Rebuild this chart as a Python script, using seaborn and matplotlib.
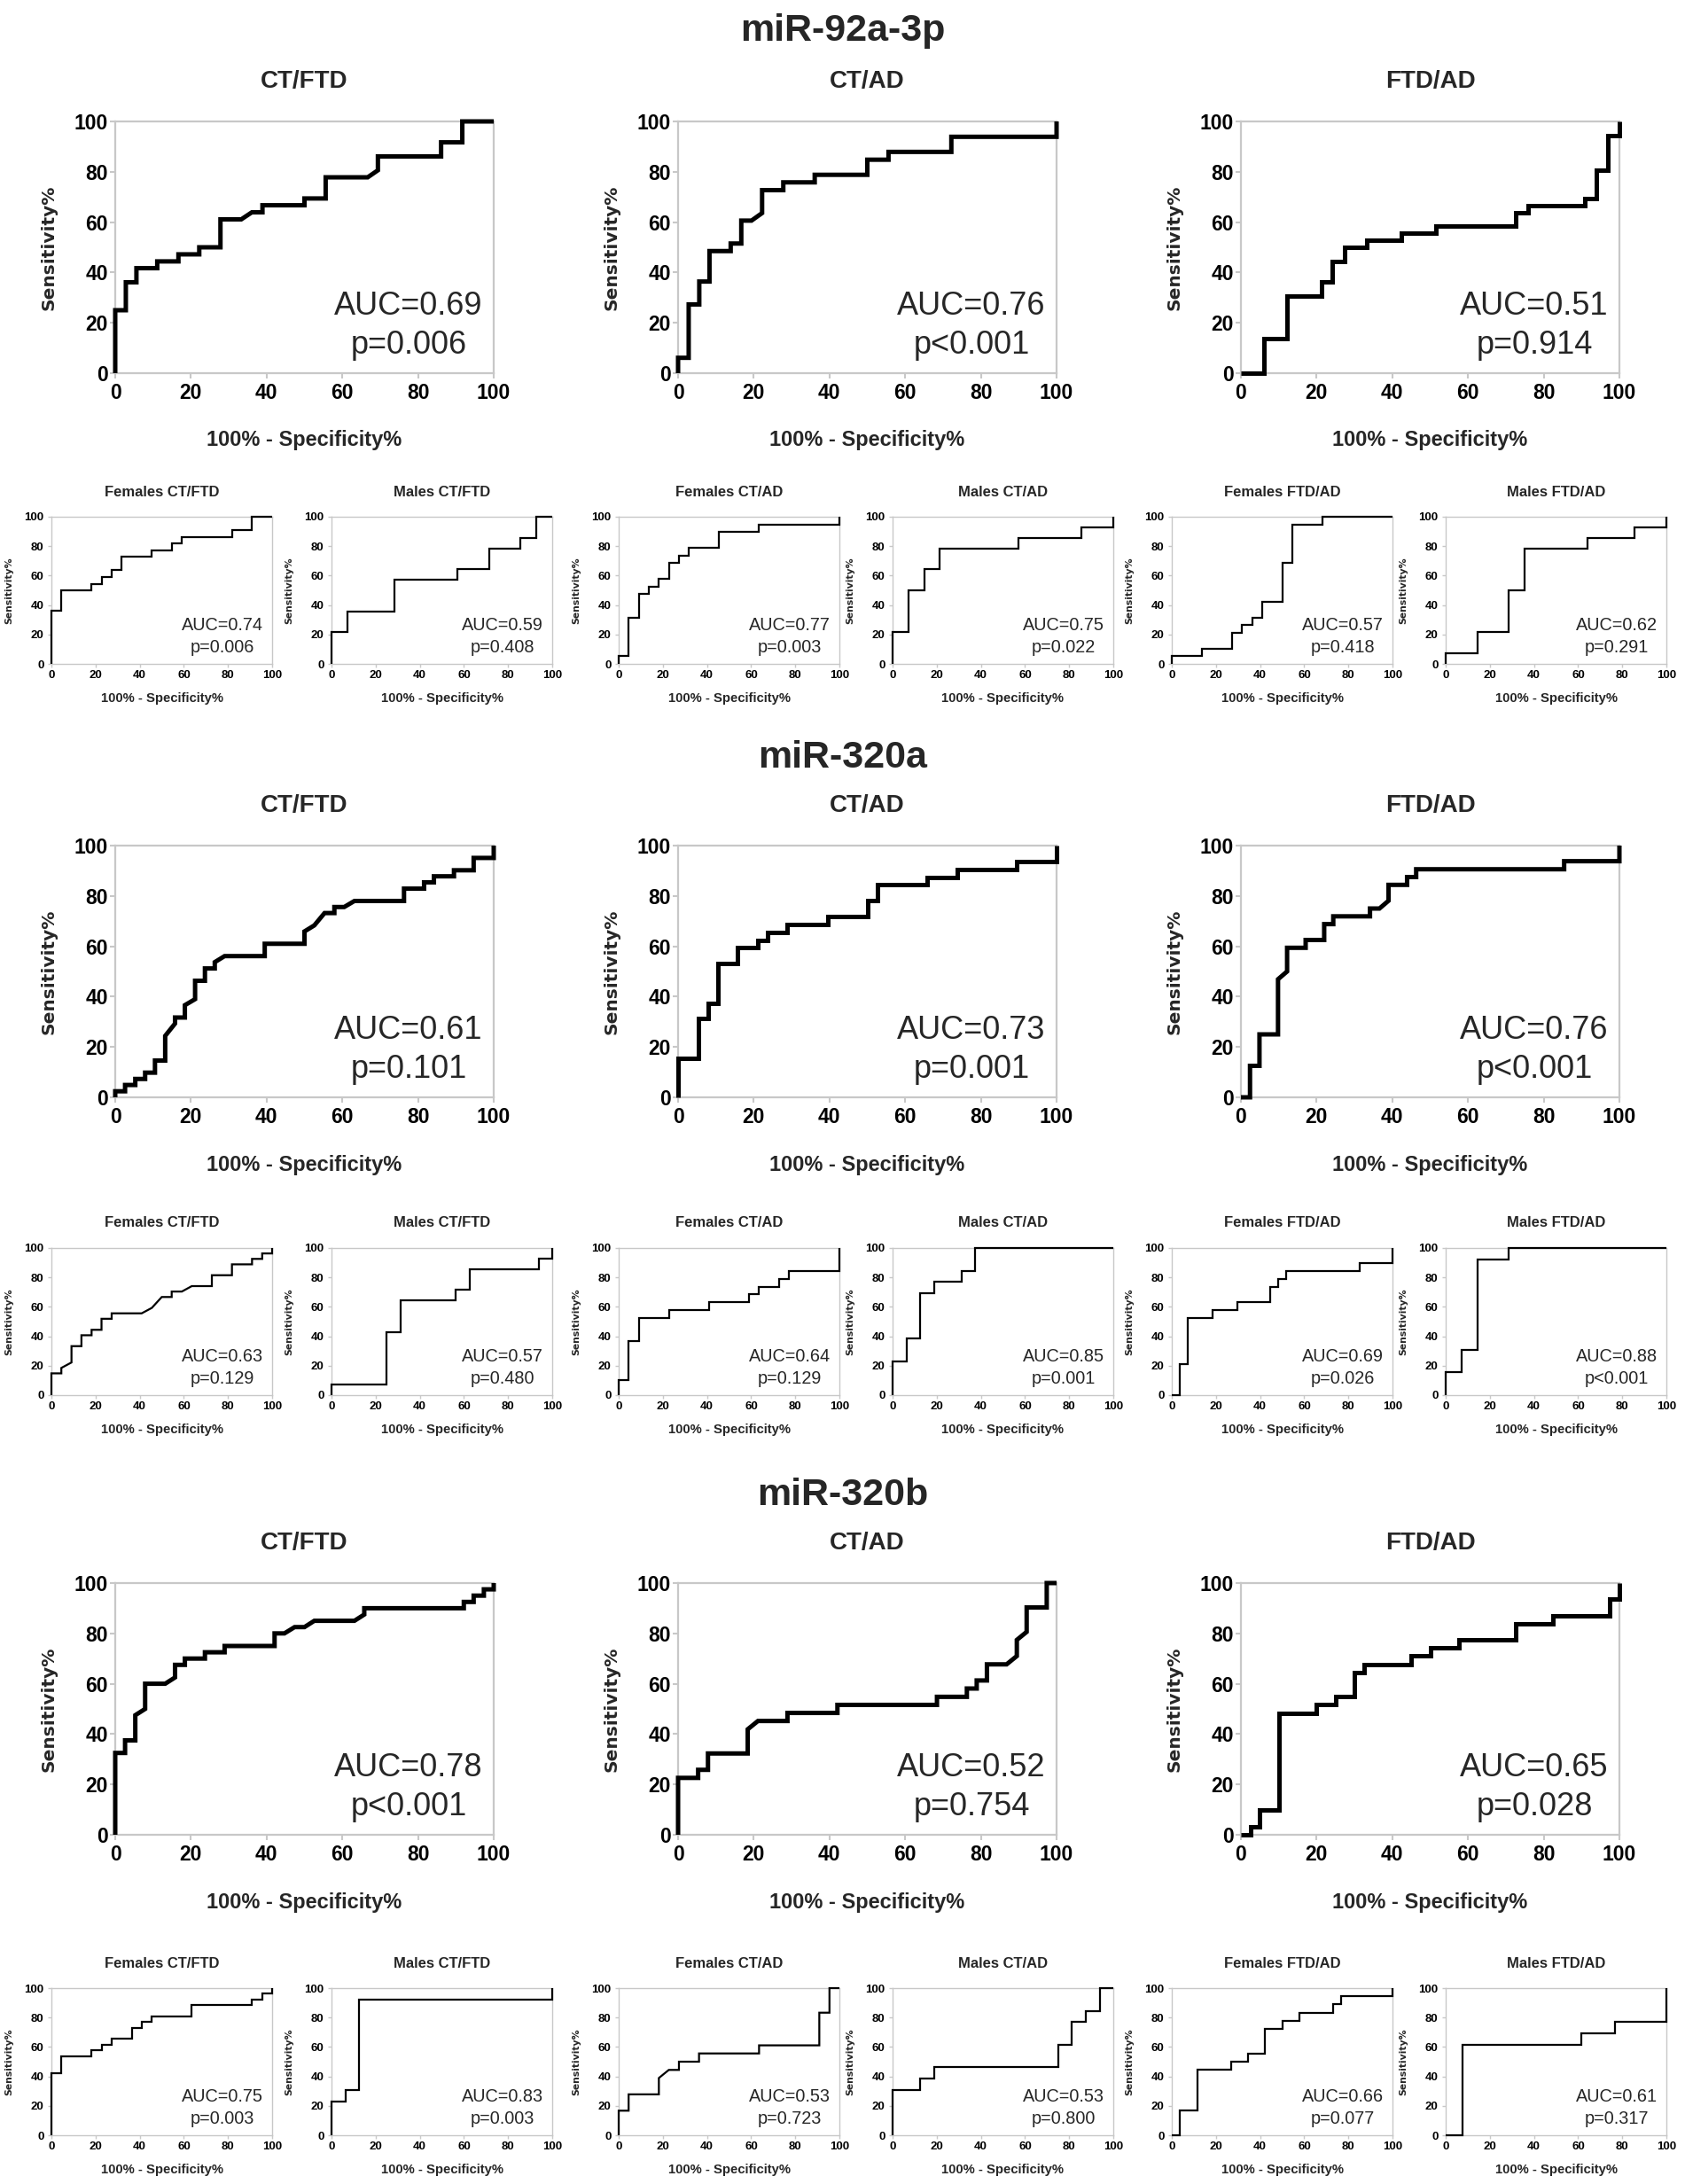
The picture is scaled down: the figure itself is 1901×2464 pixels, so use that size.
import matplotlib
matplotlib.use("Agg")
import matplotlib.pyplot as plt
import pandas as pd
import seaborn as sns

# ROC points (100% - specificity %, sensitivity %)
# ---- miR-92a-3p ----
m92_ct_ftd = [(0, 0), (0, 25), (2.8, 25), (2.8, 36.1), (5.6, 36.1), (5.6, 41.7), (11.1, 41.7), (11.1, 44.4),
              (16.7, 44.4), (16.7, 47.2), (22.2, 47.2), (22.2, 50), (27.8, 50), (27.8, 61.1), (33.3, 61.1),
              (36.1, 63.9), (38.9, 63.9), (38.9, 66.7), (50, 66.7), (50, 69.4), (55.6, 69.4), (55.6, 77.8),
              (66.7, 77.8), (69.4, 80.6), (69.4, 86.1), (86.1, 86.1), (86.1, 91.7), (91.7, 91.7), (91.7, 100),
              (100, 100)]
m92_ct_ad = [(0, 0), (0, 6.1), (2.8, 6.1), (2.8, 27.3), (5.6, 27.3), (5.6, 36.4), (8.3, 36.4), (8.3, 48.5),
             (13.9, 48.5), (13.9, 51.5), (16.7, 51.5), (16.7, 60.6), (19.4, 60.6), (22.2, 63.6), (22.2, 72.7),
             (27.8, 72.7), (27.8, 75.8), (36.1, 75.8), (36.1, 78.8), (50, 78.8), (50, 84.8), (55.6, 84.8),
             (55.6, 87.9), (72.2, 87.9), (72.2, 93.9), (100, 93.9), (100, 100)]
m92_ftd_ad = [(0, 0), (6.1, 0), (6.1, 13.9), (12.1, 13.9), (12.1, 30.6), (21.2, 30.6), (21.2, 36.1),
              (24.2, 36.1), (24.2, 44.4), (27.3, 44.4), (27.3, 50), (33.3, 50), (33.3, 52.8), (42.4, 52.8),
              (42.4, 55.6), (51.5, 55.6), (51.5, 58.3), (72.7, 58.3), (72.7, 63.9), (75.8, 63.9), (75.8, 66.7),
              (90.9, 66.7), (90.9, 69.4), (93.9, 69.4), (93.9, 80.6), (97, 80.6), (97, 94.4), (100, 94.4),
              (100, 100)]
m92_f_ct_ftd = [(0, 0), (0, 36.4), (4.5, 36.4), (4.5, 50), (18.2, 50), (18.2, 54.5), (22.7, 54.5), (22.7, 59.1),
                (27.3, 59.1), (27.3, 63.6), (31.8, 63.6), (31.8, 72.7), (45.5, 72.7), (45.5, 77.3), (54.5, 77.3),
                (54.5, 81.8), (59.1, 81.8), (59.1, 86.4), (81.8, 86.4), (81.8, 90.9), (90.9, 90.9), (90.9, 100),
                (100, 100)]
m92_m_ct_ftd = [(0, 0), (0, 21.4), (7.1, 21.4), (7.1, 35.7), (28.6, 35.7), (28.6, 57.1), (57.1, 57.1),
                (57.1, 64.3), (71.4, 64.3), (71.4, 78.6), (85.7, 78.6), (85.7, 85.7), (92.9, 85.7), (92.9, 100),
                (100, 100)]
m92_f_ct_ad = [(0, 0), (0, 5.3), (4.5, 5.3), (4.5, 31.6), (9.1, 31.6), (9.1, 47.4), (13.6, 47.4), (13.6, 52.6),
               (18.2, 52.6), (18.2, 57.9), (22.7, 57.9), (22.7, 68.4), (27.3, 68.4), (27.3, 73.7), (31.8, 73.7),
               (31.8, 78.9), (45.5, 78.9), (45.5, 89.5), (63.6, 89.5), (63.6, 94.7), (100, 94.7), (100, 100)]
m92_m_ct_ad = [(0, 0), (0, 21.4), (7.1, 21.4), (7.1, 50), (14.3, 50), (14.3, 64.3), (21.4, 64.3), (21.4, 78.6),
               (57.1, 78.6), (57.1, 85.7), (85.7, 85.7), (85.7, 92.9), (100, 92.9), (100, 100)]
m92_f_ftd_ad = [(0, 0), (0, 5.3), (13.6, 5.3), (13.6, 10.5), (27.3, 10.5), (27.3, 21.1), (31.8, 21.1),
                (31.8, 26.3), (36.4, 26.3), (36.4, 31.6), (40.9, 31.6), (40.9, 42.1), (50, 42.1), (50, 68.4),
                (54.5, 68.4), (54.5, 94.7), (68.2, 94.7), (68.2, 100), (100, 100)]
m92_m_ftd_ad = [(0, 0), (0, 7.1), (14.3, 7.1), (14.3, 21.4), (28.6, 21.4), (28.6, 50), (35.7, 50), (35.7, 78.6),
                (64.3, 78.6), (64.3, 85.7), (85.7, 85.7), (85.7, 92.9), (100, 92.9), (100, 100)]

# ---- miR-320a ----
m320a_ct_ftd = [(0, 0), (0, 2.4), (2.6, 2.4), (2.6, 4.9), (5.3, 4.9), (5.3, 7.3), (7.9, 7.3), (7.9, 9.8),
                (10.5, 9.8), (10.5, 14.6), (13.2, 14.6), (13.2, 24.4), (15.8, 29.3), (15.8, 31.7), (18.4, 31.7),
                (18.4, 36.6), (21.1, 39.0), (21.1, 46.3), (23.7, 46.3), (23.7, 51.2), (26.3, 51.2), (26.3, 53.7),
                (28.9, 56.1), (39.5, 56.1), (39.5, 61.0), (50, 61.0), (50, 65.9), (52.6, 68.3), (55.3, 73.2),
                (57.9, 73.2), (57.9, 75.6), (60.5, 75.6), (63.2, 78.0), (76.3, 78.0), (76.3, 82.9), (81.6, 82.9),
                (81.6, 85.4), (84.2, 85.4), (84.2, 87.8), (89.5, 87.8), (89.5, 90.2), (94.7, 90.2), (94.7, 95.1),
                (100, 95.1), (100, 100)]
m320a_ct_ad = [(0, 0), (0, 15.6), (5.3, 15.6), (5.3, 31.3), (7.9, 31.3), (7.9, 37.5), (10.5, 37.5), (10.5, 53.1),
               (15.8, 53.1), (15.8, 59.4), (21.1, 59.4), (21.1, 62.5), (23.7, 62.5), (23.7, 65.6), (28.9, 65.6),
               (28.9, 68.8), (39.5, 68.8), (39.5, 71.9), (50, 71.9), (50, 78.1), (52.6, 78.1), (52.6, 84.4),
               (65.8, 84.4), (65.8, 87.5), (73.7, 87.5), (73.7, 90.6), (89.5, 90.6), (89.5, 93.8), (100, 93.8),
               (100, 100)]
m320a_ftd_ad = [(0, 0), (2.4, 0), (2.4, 12.5), (4.9, 12.5), (4.9, 25), (9.8, 25), (9.8, 46.9), (12.2, 50),
                (12.2, 59.4), (17.1, 59.4), (17.1, 62.5), (22, 62.5), (22, 68.8), (24.4, 68.8), (24.4, 71.9),
                (34.1, 71.9), (34.1, 75), (36.6, 75), (39, 78.1), (39, 84.4), (43.9, 84.4), (43.9, 87.5),
                (46.3, 87.5), (46.3, 90.6), (85.4, 90.6), (85.4, 93.8), (100, 93.8), (100, 100)]
m320a_f_ct_ftd = [(0, 0), (0, 14.8), (4.5, 14.8), (4.5, 18.5), (9.1, 22.2), (9.1, 33.3), (13.6, 33.3),
                  (13.6, 40.7), (18.2, 40.7), (18.2, 44.4), (22.7, 44.4), (22.7, 51.9), (27.3, 51.9), (27.3, 55.6),
                  (40.9, 55.6), (45.5, 59.3), (50, 66.7), (54.5, 66.7), (54.5, 70.4), (59.1, 70.4), (63.6, 74.1),
                  (72.7, 74.1), (72.7, 81.5), (81.8, 81.5), (81.8, 88.9), (90.9, 88.9), (90.9, 92.6), (95.5, 92.6),
                  (95.5, 96.3), (100, 96.3), (100, 100)]
m320a_m_ct_ftd = [(0, 0), (0, 7.1), (25, 7.1), (25, 42.9), (31.3, 42.9), (31.3, 64.3), (56.3, 64.3), (56.3, 71.4),
                  (62.5, 71.4), (62.5, 85.7), (93.8, 85.7), (93.8, 92.9), (100, 92.9), (100, 100)]
m320a_f_ct_ad = [(0, 0), (0, 10.5), (4.5, 10.5), (4.5, 36.8), (9.1, 36.8), (9.1, 52.6), (22.7, 52.6),
                 (22.7, 57.9), (40.9, 57.9), (40.9, 63.2), (59.1, 63.2), (59.1, 68.4), (63.6, 68.4), (63.6, 73.7),
                 (72.7, 73.7), (72.7, 78.9), (77.3, 78.9), (77.3, 84.2), (100, 84.2), (100, 100)]
m320a_m_ct_ad = [(0, 0), (0, 23.1), (6.3, 23.1), (6.3, 38.5), (12.5, 38.5), (12.5, 69.2), (18.8, 69.2),
                 (18.8, 76.9), (31.3, 76.9), (31.3, 84.6), (37.5, 84.6), (37.5, 100), (100, 100)]
m320a_f_ftd_ad = [(0, 0), (3.7, 0), (3.7, 21.1), (7.4, 21.1), (7.4, 52.6), (18.5, 52.6), (18.5, 57.9),
                  (29.6, 57.9), (29.6, 63.2), (44.4, 63.2), (44.4, 73.7), (48.1, 73.7), (48.1, 78.9), (51.9, 78.9),
                  (51.9, 84.2), (85.2, 84.2), (85.2, 89.5), (100, 89.5), (100, 100)]
m320a_m_ftd_ad = [(0, 0), (0, 15.4), (7.1, 15.4), (7.1, 30.8), (14.3, 30.8), (14.3, 92.3), (28.6, 92.3),
                  (28.6, 100), (100, 100)]

# ---- miR-320b ----
m320b_ct_ftd = [(0, 0), (0, 32.5), (2.6, 32.5), (2.6, 37.5), (5.3, 37.5), (5.3, 47.5), (7.9, 50), (7.9, 60),
                (13.2, 60), (15.8, 62.5), (15.8, 67.5), (18.4, 67.5), (18.4, 70), (23.7, 70), (23.7, 72.5),
                (28.9, 72.5), (28.9, 75), (42.1, 75), (42.1, 80), (44.7, 80), (47.4, 82.5), (50, 82.5),
                (52.6, 85), (63.2, 85), (65.8, 87.5), (65.8, 90), (92.1, 90), (92.1, 92.5), (94.7, 92.5),
                (94.7, 95), (97.4, 95), (97.4, 97.5), (100, 97.5), (100, 100)]
m320b_ct_ad = [(0, 0), (0, 22.6), (5.3, 22.6), (5.3, 25.8), (7.9, 25.8), (7.9, 32.3), (18.4, 32.3), (18.4, 41.9),
               (21.1, 45.2), (28.9, 45.2), (28.9, 48.4), (42.1, 48.4), (42.1, 51.6), (68.4, 51.6), (68.4, 54.8),
               (76.3, 54.8), (76.3, 58.1), (78.9, 58.1), (78.9, 61.3), (81.6, 61.3), (81.6, 67.7), (86.8, 67.7),
               (89.5, 71), (89.5, 77.4), (92.1, 80.6), (92.1, 90.3), (97.4, 90.3), (97.4, 100), (100, 100)]
m320b_ftd_ad = [(0, 0), (2.5, 0), (2.5, 3.2), (5, 3.2), (5, 9.7), (10, 9.7), (10, 48.4), (20, 48.4), (20, 51.6),
                (25, 51.6), (25, 54.8), (30, 54.8), (30, 64.5), (32.5, 64.5), (32.5, 67.7), (45, 67.7), (45, 71),
                (50, 71), (50, 74.2), (57.5, 74.2), (57.5, 77.4), (72.5, 77.4), (72.5, 83.9), (82.5, 83.9),
                (82.5, 87.1), (97.5, 87.1), (97.5, 93.5), (100, 93.5), (100, 100)]
m320b_f_ct_ftd = [(0, 0), (0, 42.3), (4.5, 42.3), (4.5, 53.8), (18.2, 53.8), (18.2, 57.7), (22.7, 57.7),
                  (22.7, 61.5), (27.3, 61.5), (27.3, 65.4), (36.4, 65.4), (36.4, 73.1), (40.9, 73.1), (40.9, 76.9),
                  (45.5, 76.9), (45.5, 80.8), (63.6, 80.8), (63.6, 88.5), (90.9, 88.5), (90.9, 92.3), (95.5, 92.3),
                  (95.5, 96.2), (100, 96.2), (100, 100)]
m320b_m_ct_ftd = [(0, 0), (0, 23.1), (6.3, 23.1), (6.3, 30.8), (12.5, 30.8), (12.5, 92.3), (100, 92.3), (100, 100)]
m320b_f_ct_ad = [(0, 0), (0, 16.7), (4.5, 16.7), (4.5, 27.8), (18.2, 27.8), (18.2, 38.9), (22.7, 44.4),
                 (27.3, 44.4), (27.3, 50), (36.4, 50), (36.4, 55.6), (63.6, 55.6), (63.6, 61.1), (90.9, 61.1),
                 (90.9, 83.3), (95.5, 83.3), (95.5, 100), (100, 100)]
m320b_m_ct_ad = [(0, 0), (0, 30.8), (12.5, 30.8), (12.5, 38.5), (18.8, 38.5), (18.8, 46.2), (75, 46.2),
                 (75, 61.5), (81.3, 61.5), (81.3, 76.9), (87.5, 76.9), (87.5, 84.6), (93.8, 84.6), (93.8, 100),
                 (100, 100)]
m320b_f_ftd_ad = [(0, 0), (3.8, 0), (3.8, 16.7), (11.5, 16.7), (11.5, 44.4), (26.9, 44.4), (26.9, 50),
                  (34.6, 50), (34.6, 55.6), (42.3, 55.6), (42.3, 72.2), (50, 72.2), (50, 77.8), (57.7, 77.8),
                  (57.7, 83.3), (73.1, 83.3), (73.1, 88.9), (76.9, 88.9), (76.9, 94.4), (100, 94.4), (100, 100)]
m320b_m_ftd_ad = [(0, 0), (7.7, 0), (7.7, 61.5), (61.5, 61.5), (61.5, 69.2), (76.9, 69.2), (76.9, 76.9),
                  (100, 76.9), (100, 100)]

mirnas = ["miR-92a-3p", "miR-320a", "miR-320b"]
big_titles = ["CT/FTD", "CT/AD", "FTD/AD"]
small_titles = ["Females CT/FTD", "Males CT/FTD", "Females CT/AD", "Males CT/AD", "Females FTD/AD", "Males FTD/AD"]

big_curves = [[m92_ct_ftd, m92_ct_ad, m92_ftd_ad],
              [m320a_ct_ftd, m320a_ct_ad, m320a_ftd_ad],
              [m320b_ct_ftd, m320b_ct_ad, m320b_ftd_ad]]
big_auc = [["0.69", "0.76", "0.51"], ["0.61", "0.73", "0.76"], ["0.78", "0.52", "0.65"]]
big_p = [["=0.006", "<0.001", "=0.914"], ["=0.101", "=0.001", "<0.001"], ["<0.001", "=0.754", "=0.028"]]

small_curves = [[m92_f_ct_ftd, m92_m_ct_ftd, m92_f_ct_ad, m92_m_ct_ad, m92_f_ftd_ad, m92_m_ftd_ad],
                [m320a_f_ct_ftd, m320a_m_ct_ftd, m320a_f_ct_ad, m320a_m_ct_ad, m320a_f_ftd_ad, m320a_m_ftd_ad],
                [m320b_f_ct_ftd, m320b_m_ct_ftd, m320b_f_ct_ad, m320b_m_ct_ad, m320b_f_ftd_ad, m320b_m_ftd_ad]]
small_auc = [["0.74", "0.59", "0.77", "0.75", "0.57", "0.62"],
             ["0.63", "0.57", "0.64", "0.85", "0.69", "0.88"],
             ["0.75", "0.83", "0.53", "0.53", "0.66", "0.61"]]
small_p = [["=0.006", "=0.408", "=0.003", "=0.022", "=0.418", "=0.291"],
           ["=0.129", "=0.480", "=0.129", "=0.001", "=0.026", "<0.001"],
           ["=0.003", "=0.003", "=0.723", "=0.800", "=0.077", "=0.317"]]

ticks = [0, 20, 40, 60, 80, 100]

# layout in pixels
W, H = 1901, 2464
big_left = [130, 765, 1400]
big_w, big_h = 427, 284
big_top = [137, 954, 1786]
small_left = [58, 374, 698, 1007, 1322, 1631]
small_w, small_h = 249, 166
small_top = [583, 1408, 2243]
title_y = [35, 855, 1687]
GREY = "#c8c8c8"

sns.set_theme(style="white")
plt.rcParams["font.family"] = ["Liberation Sans", "DejaVu Sans"]

fig = plt.figure(figsize=(W / 100, H / 100), dpi=100)
fig.patch.set_facecolor("white")


def add_ax(left, top, w, h):
    return fig.add_axes([left / W, 1 - (top + h) / H, w / W, h / H])


def ftext(x, y, s, **kw):
    fig.text(x / W, 1 - y / H, s, ha="center", va="center", **kw)


def draw_roc(ax, pts, auc, p, big):
    df = pd.DataFrame(pts, columns=["fpr", "tpr"])
    sns.lineplot(data=df, x="fpr", y="tpr", sort=False, estimator=None, color="black",
                 linewidth=3.6 if big else 1.6, ax=ax, clip_on=False, zorder=5,
                 solid_joinstyle="miter", solid_capstyle="butt")
    ax.set_xlim(0, 100)
    ax.set_ylim(0, 100)
    fs = 16.5 if big else 9.5
    ax.set_xticks(ticks, labels=[str(t) for t in ticks], fontsize=fs, fontweight="bold")
    ax.set_yticks(ticks, labels=[str(t) for t in ticks], fontsize=fs, fontweight="bold")
    ax.tick_params(axis="both", direction="out", color=GREY, labelcolor="black",
                   length=4 if big else 3, width=1.5 if big else 1.0, bottom=True, left=True)
    ax.tick_params(axis="x", pad=4 if big else 2)
    ax.tick_params(axis="y", pad=2 if big else 3)
    for sp in ax.spines.values():
        sp.set_visible(True)
        sp.set_color(GREY)
        sp.set_linewidth(1.6 if big else 1.0)
    ax.set_xlabel("")
    ax.set_ylabel("")
    ax.grid(False)
    ax.text(-0.176 if big else -0.19, 0.5, "Sensitivity%", transform=ax.transAxes, rotation=90,
            ha="center", va="center", fontsize=14.5 if big else 7.8, fontweight="bold",
            family=["DejaVu Sans"])
    afs = 26 if big else 14.3
    ax.text(0.775, 0.265, "AUC=" + auc, transform=ax.transAxes, ha="center", va="center", fontsize=afs)
    ax.text(0.775, 0.11, "p" + p, transform=ax.transAxes, ha="center", va="center", fontsize=afs)


for s in range(3):
    ftext(951, title_y[s], mirnas[s], fontsize=31, fontweight="bold")
    for j in range(3):
        ax = add_ax(big_left[j], big_top[s], big_w, big_h)
        draw_roc(ax, big_curves[s][j], big_auc[s][j], big_p[s][j], True)
        cx = big_left[j] + big_w / 2
        ftext(cx, big_top[s] - 45, big_titles[j], fontsize=20, fontweight="bold")
        ftext(cx, big_top[s] + big_h + 76, "100% - Specificity%", fontsize=17, fontweight="bold")
    for k in range(6):
        ax = add_ax(small_left[k], small_top[s], small_w, small_h)
        draw_roc(ax, small_curves[s][k], small_auc[s][k], small_p[s][k], False)
        cx = small_left[k] + small_w / 2
        ftext(cx, small_top[s] - 28, small_titles[k], fontsize=12, fontweight="bold")
        ftext(cx, small_top[s] + small_h + 39, "100% - Specificity%", fontsize=10.7, fontweight="bold")

fig.savefig("out.png", dpi=100, facecolor="white")
